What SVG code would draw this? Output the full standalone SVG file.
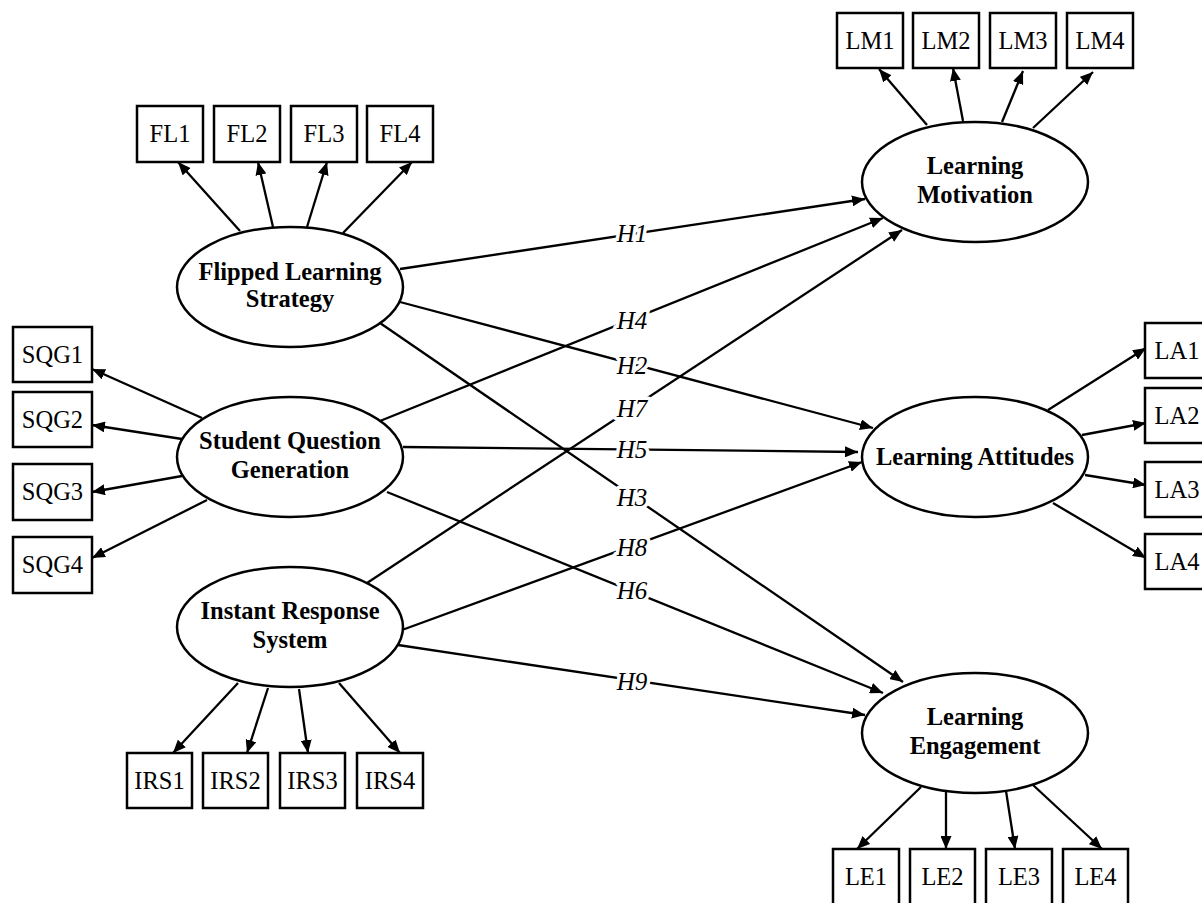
<svg xmlns="http://www.w3.org/2000/svg" width="1202" height="903" viewBox="0 0 1202 903">
<style>
.box{fill:#fff;stroke:#000;stroke-width:2.5}
.ell{fill:#fff;stroke:#000;stroke-width:2.5}
.bt{font-family:"Liberation Serif","Times New Roman",serif;font-size:24.5px;text-anchor:middle;fill:#000}
.lt{font-family:"Liberation Serif","Times New Roman",serif;font-size:24.5px;font-weight:bold;text-anchor:middle;fill:#000}
.ht{font-family:"Liberation Serif","Times New Roman",serif;font-size:25px;font-style:italic;text-anchor:middle;fill:#000;stroke:#fff;stroke-width:7;paint-order:stroke;stroke-linejoin:round}
.ln{stroke:#000;stroke-width:2.3;fill:none;marker-end:url(#ah)}
</style>
<defs>
<marker id="ah" markerUnits="userSpaceOnUse" markerWidth="13" markerHeight="11" refX="13" refY="5.5" orient="auto">
<path d="M0,0 L13,5.5 L0,11 z" fill="#000"/>
</marker>
</defs>
<rect width="1202" height="903" fill="#fff"/>
<g id="connectors">
<line class="ln" x1="240" y1="231" x2="178" y2="162"/>
<line class="ln" x1="273" y1="227" x2="258" y2="162"/>
<line class="ln" x1="307" y1="227" x2="327" y2="162"/>
<line class="ln" x1="343" y1="233" x2="412" y2="162"/>
<line class="ln" x1="927" y1="125" x2="879" y2="69"/>
<line class="ln" x1="963" y1="121" x2="953" y2="68"/>
<line class="ln" x1="1002" y1="122" x2="1023" y2="71"/>
<line class="ln" x1="1033" y1="128" x2="1093" y2="72"/>
<line class="ln" x1="202" y1="418" x2="92" y2="369"/>
<line class="ln" x1="182" y1="439" x2="92" y2="425"/>
<line class="ln" x1="182" y1="476" x2="92" y2="492"/>
<line class="ln" x1="207" y1="500" x2="92" y2="558"/>
<line class="ln" x1="1048" y1="410" x2="1146" y2="348"/>
<line class="ln" x1="1082" y1="435" x2="1146" y2="423"/>
<line class="ln" x1="1085" y1="475" x2="1146" y2="485"/>
<line class="ln" x1="1053" y1="503" x2="1146" y2="558"/>
<line class="ln" x1="238" y1="683" x2="173" y2="753"/>
<line class="ln" x1="268" y1="688" x2="247" y2="753"/>
<line class="ln" x1="299" y1="689" x2="308" y2="753"/>
<line class="ln" x1="339" y1="683" x2="400" y2="753"/>
<line class="ln" x1="921" y1="787" x2="857" y2="849"/>
<line class="ln" x1="946" y1="792" x2="946" y2="849"/>
<line class="ln" x1="1006" y1="791" x2="1015" y2="849"/>
<line class="ln" x1="1033" y1="785" x2="1102" y2="849"/>
<line class="ln" x1="400" y1="269" x2="865" y2="199"/>
<line class="ln" x1="400" y1="302" x2="873" y2="428"/>
<line class="ln" x1="380" y1="323" x2="903" y2="682"/>
<line class="ln" x1="380" y1="421" x2="883" y2="218"/>
<line class="ln" x1="403" y1="447" x2="858" y2="452"/>
<line class="ln" x1="387" y1="492" x2="883" y2="693"/>
<line class="ln" x1="367" y1="583" x2="902" y2="230"/>
<line class="ln" x1="402" y1="630" x2="862" y2="462"/>
<line class="ln" x1="398" y1="645" x2="865" y2="715"/>
<text class="ht" x="632" y="242">H1</text>
<text class="ht" x="632" y="374">H2</text>
<text class="ht" x="632" y="506">H3</text>
<text class="ht" x="632" y="329">H4</text>
<text class="ht" x="632" y="458">H5</text>
<text class="ht" x="632" y="599">H6</text>
<text class="ht" x="632" y="417">H7</text>
<text class="ht" x="632" y="556">H8</text>
<text class="ht" x="632" y="690">H9</text>
</g>
<g id="FLS"><ellipse class="ell" cx="290" cy="287" rx="113" ry="60"/><text class="lt" x="290" y="280">Flipped Learning</text><text class="lt" x="290" y="307">Strategy</text></g>
<g id="SQG"><ellipse class="ell" cx="290" cy="457" rx="113" ry="60"/><text class="lt" x="290" y="449">Student Question</text><text class="lt" x="290" y="478">Generation</text></g>
<g id="IRS"><ellipse class="ell" cx="290" cy="627" rx="113" ry="60"/><text class="lt" x="290" y="619">Instant Response</text><text class="lt" x="290" y="648">System</text></g>
<g id="LM"><ellipse class="ell" cx="975" cy="182" rx="113" ry="60"/><text class="lt" x="975" y="174">Learning</text><text class="lt" x="975" y="203">Motivation</text></g>
<g id="LA"><ellipse class="ell" cx="975" cy="457" rx="113" ry="60"/><text class="lt" x="975" y="465">Learning Attitudes</text></g>
<g id="LE"><ellipse class="ell" cx="975" cy="733" rx="113" ry="60"/><text class="lt" x="975" y="725">Learning</text><text class="lt" x="975" y="754">Engagement</text></g>
<g id="FL1"><rect class="box" x="137" y="106" width="66" height="56"/><text class="bt" x="170" y="142">FL1</text></g>
<g id="FL2"><rect class="box" x="214" y="106" width="66" height="56"/><text class="bt" x="247" y="142">FL2</text></g>
<g id="FL3"><rect class="box" x="291" y="106" width="66" height="56"/><text class="bt" x="324" y="142">FL3</text></g>
<g id="FL4"><rect class="box" x="367" y="106" width="66" height="56"/><text class="bt" x="400" y="142">FL4</text></g>
<g id="LM1"><rect class="box" x="837" y="13" width="66" height="55"/><text class="bt" x="870" y="49">LM1</text></g>
<g id="LM2"><rect class="box" x="913" y="13" width="66" height="55"/><text class="bt" x="946" y="49">LM2</text></g>
<g id="LM3"><rect class="box" x="990" y="13" width="66" height="55"/><text class="bt" x="1023" y="49">LM3</text></g>
<g id="LM4"><rect class="box" x="1067" y="13" width="66" height="55"/><text class="bt" x="1100" y="49">LM4</text></g>
<g id="SQG1"><rect class="box" x="13" y="327" width="79" height="55"/><text class="bt" x="52.5" y="363">SQG1</text></g>
<g id="SQG2"><rect class="box" x="13" y="392" width="79" height="55"/><text class="bt" x="52.5" y="428">SQG2</text></g>
<g id="SQG3"><rect class="box" x="13" y="464" width="79" height="56"/><text class="bt" x="52.5" y="500">SQG3</text></g>
<g id="SQG4"><rect class="box" x="13" y="537" width="79" height="56"/><text class="bt" x="52.5" y="573">SQG4</text></g>
<g id="LA1"><rect class="box" x="1145" y="323" width="66" height="55"/><text class="bt" x="1177" y="359">LA1</text></g>
<g id="LA2"><rect class="box" x="1145" y="388" width="66" height="55"/><text class="bt" x="1177" y="424">LA2</text></g>
<g id="LA3"><rect class="box" x="1145" y="462" width="66" height="55"/><text class="bt" x="1177" y="498">LA3</text></g>
<g id="LA4"><rect class="box" x="1145" y="534" width="66" height="55"/><text class="bt" x="1177" y="570">LA4</text></g>
<g id="IRS1"><rect class="box" x="127" y="753" width="65" height="55"/><text class="bt" x="159.5" y="789">IRS1</text></g>
<g id="IRS2"><rect class="box" x="203" y="753" width="65" height="55"/><text class="bt" x="235.5" y="789">IRS2</text></g>
<g id="IRS3"><rect class="box" x="280" y="753" width="65" height="55"/><text class="bt" x="312.5" y="789">IRS3</text></g>
<g id="IRS4"><rect class="box" x="357" y="753" width="66" height="55"/><text class="bt" x="390" y="789">IRS4</text></g>
<g id="LE1"><rect class="box" x="833" y="849" width="66" height="56"/><text class="bt" x="866" y="885">LE1</text></g>
<g id="LE2"><rect class="box" x="910" y="849" width="65" height="56"/><text class="bt" x="942.5" y="885">LE2</text></g>
<g id="LE3"><rect class="box" x="986" y="849" width="66" height="56"/><text class="bt" x="1019" y="885">LE3</text></g>
<g id="LE4"><rect class="box" x="1063" y="849" width="65" height="56"/><text class="bt" x="1095.5" y="885">LE4</text></g>
</svg>
